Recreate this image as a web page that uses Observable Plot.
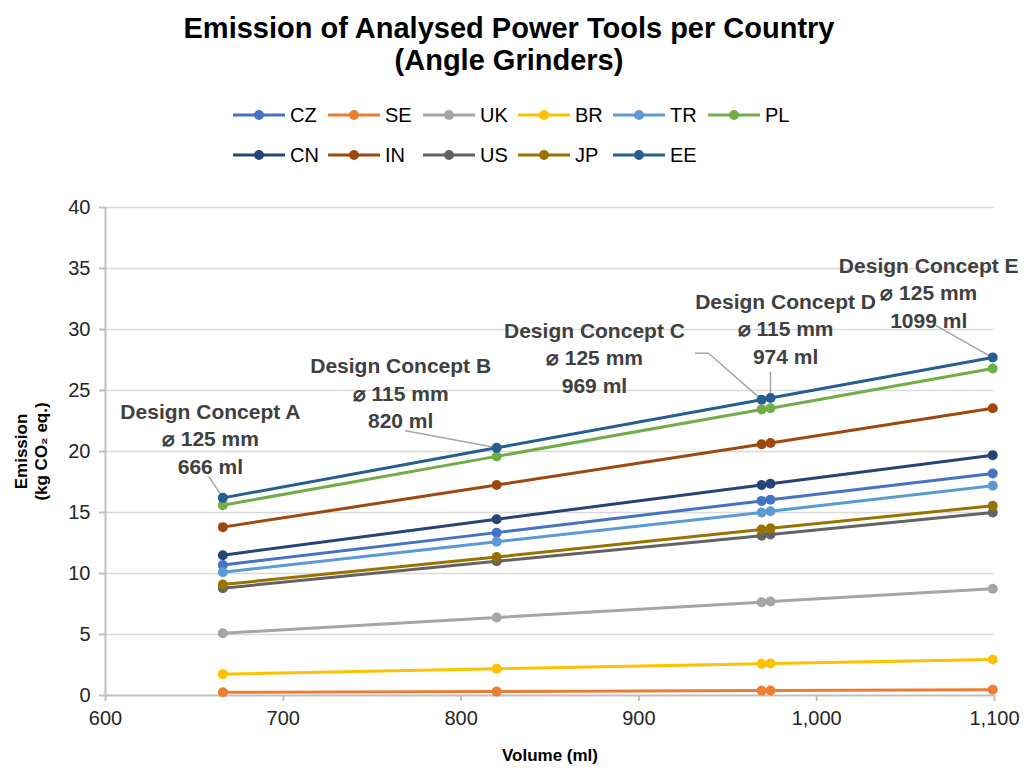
<!DOCTYPE html>
<html>
<head>
<meta charset="utf-8">
<script src="https://cdn.jsdelivr.net/npm/d3@7"></script>
<script src="https://cdn.jsdelivr.net/npm/@observablehq/plot@0.6"></script>
<style>
  body { margin: 0; background: #fff; font-family: "Liberation Sans", Arial, sans-serif; }
  #wrap { position: relative; width: 1024px; height: 771px; overflow: hidden; }
  #title { position: absolute; left: 0; top: 12px; width: 1018px; text-align: center; font-weight: bold; font-size: 29px; line-height: 32px; color: #000; }
  #legend { position: absolute; left: 233px; top: 95px; width: 620px; }
  .row { display: flex; height: 40px; align-items: center; }
  .item { width: 95px; display: flex; align-items: center; font-size: 20px; color: #000; }
  .item svg { margin-right: 5px; flex: none; }
  #chart { position: absolute; left: 0; top: 185px; }
</style>
</head>
<body>
<div id="wrap">
  <div id="title">Emission of Analysed Power Tools per Country<br>(Angle Grinders)</div>
  <div id="legend"></div>
  <div id="chart"></div>
</div>
<script>
// ---- data ----
const volumes = [666, 820, 969, 974, 1099];
const countries = ["CZ", "SE", "UK", "BR", "TR", "PL", "CN", "IN", "US", "JP", "EE"];
const colors = ["#4472C4", "#ED7D31", "#A5A5A5", "#FFC000", "#5B9BD5", "#70AD47", "#264478", "#9E480E", "#636363", "#997300", "#255E91"];
const CZ = [10.7, 13.35, 15.95, 16.05, 18.2];
const SE = [0.27, 0.32, 0.40, 0.41, 0.47];
const UK = [5.1, 6.4, 7.65, 7.7, 8.75];
const BR = [1.75, 2.2, 2.6, 2.62, 2.95];
const TR = [10.1, 12.6, 15.0, 15.1, 17.2];
const PL = [15.6, 19.6, 23.45, 23.55, 26.8];
const CN = [11.5, 14.45, 17.25, 17.35, 19.7];
const IN = [13.8, 17.25, 20.6, 20.7, 23.55];
const US = [8.8, 11.0, 13.1, 13.2, 15.0];
const JP = [9.1, 11.35, 13.6, 13.7, 15.55];
const EE = [16.2, 20.3, 24.25, 24.38, 27.7];
const seriesValues = {CZ, SE, UK, BR, TR, PL, CN, IN, US, JP, EE};
const yTicks = [0, 5, 10, 15, 20, 25, 30, 35, 40];
const xTicks = [600, 700, 800, 900, 1000, 1100];

// annotations (label anchors in data units)
const annoText = [
  "Design Concept A\n\u2300 125 mm\n666 ml",
  "Design Concept B\n\u2300 115 mm\n820 ml",
  "Design Concept C\n\u2300 125 mm\n969 ml",
  "Design Concept D\n\u2300 115 mm\n974 ml",
  "Design Concept E\n\u2300 125 mm\n1099 ml"
];
const annoX = [659, 766, 875, 982.5, 1063];
const annoY = [21.15, 24.9, 27.8, 30.16, 33.1];
// leader lines: polylines in data units
const leaders = [
  [[658.4, 17.9], [666, 16.2]],
  [[768.7, 21.7], [820, 20.3]],
  [[931.8, 28.05], [939.1, 28.05], [969, 24.25]],
  [[974, 26.5], [974, 24.38]],
  [[1067.4, 30.3], [1099, 27.7]]
];

// ---- build table ----
const rows = [];
countries.forEach((c, i) => {
  volumes.forEach((v, j) => rows.push({country: c, volume: v, emission: seriesValues[c][j], order: i}));
});
const annos = annoText.map((t, i) => ({text: t, x: annoX[i], y: annoY[i]}));
const leaderRows = [];
leaders.forEach((pts, i) => pts.forEach(p => leaderRows.push({id: i, x: p[0], y: p[1]})));

// ---- legend ----
const legend = document.getElementById("legend");
for (let r = 0; r < 2; r++) {
  const row = document.createElement("div");
  row.className = "row";
  countries.slice(r * 6, r * 6 + 6).forEach((c) => {
    const col = colors[countries.indexOf(c)];
    const it = document.createElement("div");
    it.className = "item";
    it.innerHTML = `<svg width="52" height="14"><line x1="0" y1="7" x2="52" y2="7" stroke="${col}" stroke-width="3"/><circle cx="26" cy="7" r="5" fill="${col}"/></svg><span>${c}</span>`;
    row.appendChild(it);
  });
  legend.appendChild(row);
}

// ---- chart ----
const axisColor = "#bfbfbf";
const textColor = "#262626";
const chart = Plot.plot({
  width: 1024,
  height: 586,
  marginLeft: 105,
  marginRight: 30,
  marginTop: 22,
  marginBottom: 76,
  style: {fontFamily: "'Liberation Sans', Arial, sans-serif", fontSize: "20px", color: textColor, background: "#fff", overflow: "visible"},
  x: {domain: [600, 1100]},
  y: {domain: [0, 40]},
  color: {domain: countries, range: colors},
  marks: [
    Plot.gridY(yTicks.filter(d => d > 0), {stroke: "#d9d9d9", strokeOpacity: 1, strokeWidth: 1.5}),
    Plot.axisY({ticks: yTicks, tickSize: 6, tickPadding: 9, stroke: axisColor, strokeWidth: 2, label: null, fill: textColor, fontSize: 20}),
    Plot.axisX({ticks: xTicks, tickSize: 6, tickPadding: 9, tickFormat: d3.format(","), stroke: axisColor, strokeWidth: 2, label: null, fill: textColor, fontSize: 20}),
    Plot.ruleX([600], {stroke: axisColor, strokeWidth: 2}),
    Plot.ruleY([0], {stroke: axisColor, strokeWidth: 2}),
    Plot.line(leaderRows, {x: "x", y: "y", z: "id", stroke: "#a6a6a6", strokeWidth: 1.5}),
    Plot.line(rows, {x: "volume", y: "emission", z: "country", stroke: "country", strokeWidth: 3, sort: {channel: "x"}}),
    Plot.dot(rows, {x: "volume", y: "emission", fill: "country", r: 5, stroke: null}),
    Plot.text(annos, {x: "x", y: "y", text: "text", fontWeight: "bold", fontSize: 21, lineHeight: 1.31, fill: "#404040", textAnchor: "middle"}),
    Plot.text(["Emission\n(kg CO\u2082 eq.)"], {frameAnchor: "left", dx: -75, rotate: -90, textAnchor: "middle", fontWeight: "bold", fontSize: 17, lineHeight: 1.2, fill: "#000"}),
    Plot.text(["Volume (ml)"], {frameAnchor: "bottom", dy: 65, fontWeight: "bold", fontSize: 17, fill: "#000"})
  ]
});
document.getElementById("chart").appendChild(chart);
</script>
</body>
</html>
